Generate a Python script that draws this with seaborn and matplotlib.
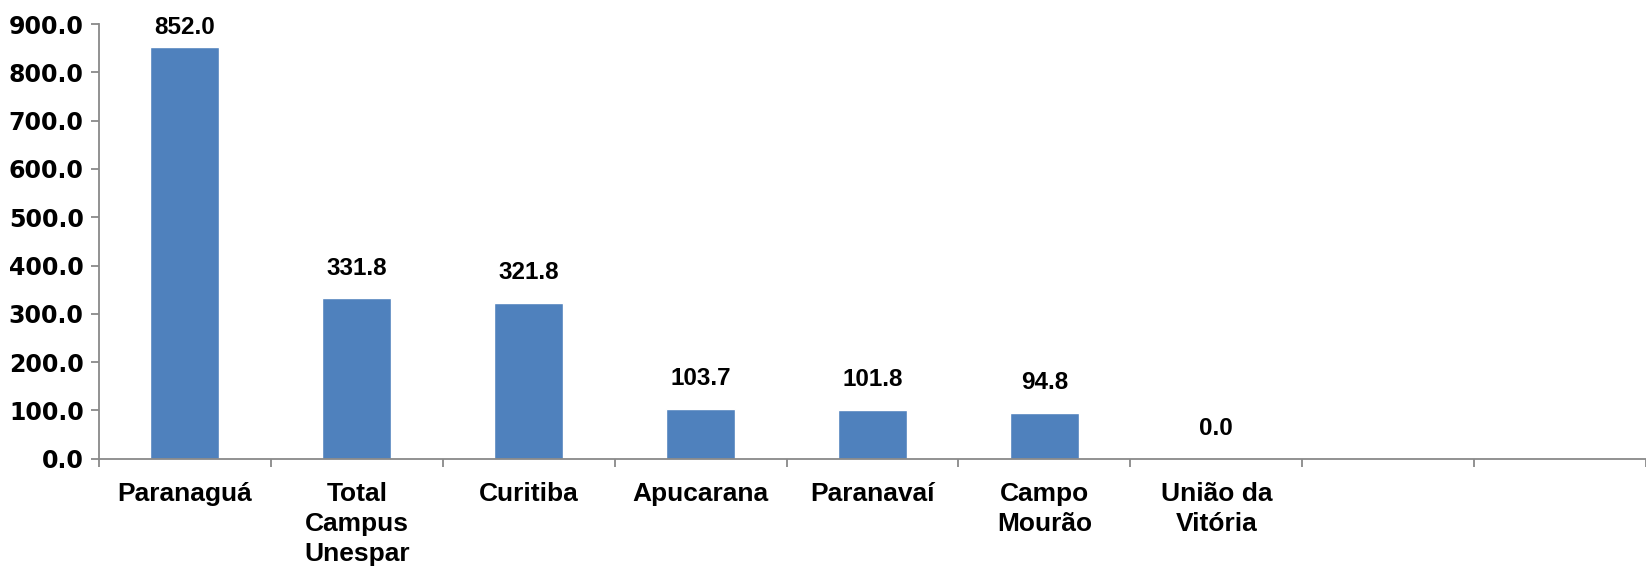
import matplotlib
matplotlib.use("Agg")
import matplotlib.pyplot as plt
import seaborn as sns
import pandas as pd
import numpy as np

categories = ["Paranaguá", "Total\nCampus\nUnespar", "Curitiba", "Apucarana",
              "Paranavaí", "Campo\nMourão", "União da\nVitória", "", ""]
values = [852.0, 331.8, 321.8, 103.7, 101.8, 94.8, 0.0, np.nan, np.nan]
value_labels = ["852.0", "331.8", "321.8", "103.7", "101.8", "94.8", "0.0", "", ""]
yticks = [0, 100, 200, 300, 400, 500, 600, 700, 800, 900]

sns.set_theme(style="white")
plt.rcParams['font.family'] = ['Liberation Sans', 'DejaVu Sans']

df = pd.DataFrame({"cat": [str(i) for i in range(len(categories))], "val": values})

fig = plt.figure(figsize=(16.46, 5.66), dpi=100)
ax = fig.add_axes([0.0601, 0.1896, 0.9399, 0.7678])

sns.barplot(data=df, x="cat", y="val", color="#4F81BD", width=0.40,
            saturation=1, ax=ax, order=df["cat"].tolist())

ax.set_ylim(0, 900)
ax.set_xlim(-0.5, 8.38)
ax.set_xlabel("")
ax.set_ylabel("")

axis_col = "#898989"
for s in ["top", "right"]:
    ax.spines[s].set_visible(False)
for s in ["left", "bottom"]:
    ax.spines[s].set_color(axis_col)
    ax.spines[s].set_linewidth(1.3)

ax.set_yticks(yticks)
ax.set_yticklabels([f"{t:.1f}" for t in yticks], fontsize=17, fontweight="bold",
                   family="DejaVu Sans", color="black")
ax.tick_params(axis="y", direction="out", length=6, width=1.3, color=axis_col, pad=5, left=True)

ax.set_xticks(range(len(categories)))
ax.set_xticklabels(categories, fontsize=19, fontweight="bold", color="black",
                   linespacing=1.3, va="top")
ax.tick_params(axis="x", which="major", length=0, pad=17)
ax.set_xticks(np.arange(-0.5, len(categories), 1.0), minor=True)
ax.tick_params(axis="x", which="minor", direction="out", length=6, width=1.3,
               color=axis_col, bottom=True)

off = 39.0
lab_h = 36.0
for i, (v, lab) in enumerate(zip(values, value_labels)):
    if not lab:
        continue
    yb = min(v + off, 905 - lab_h)
    ax.text(i, yb, lab, ha="center", va="bottom", fontsize=17.5,
            fontweight="bold", family=["Liberation Sans", "DejaVu Sans"], color="black",
            clip_on=False)

fig.savefig("out.png", dpi=100)
